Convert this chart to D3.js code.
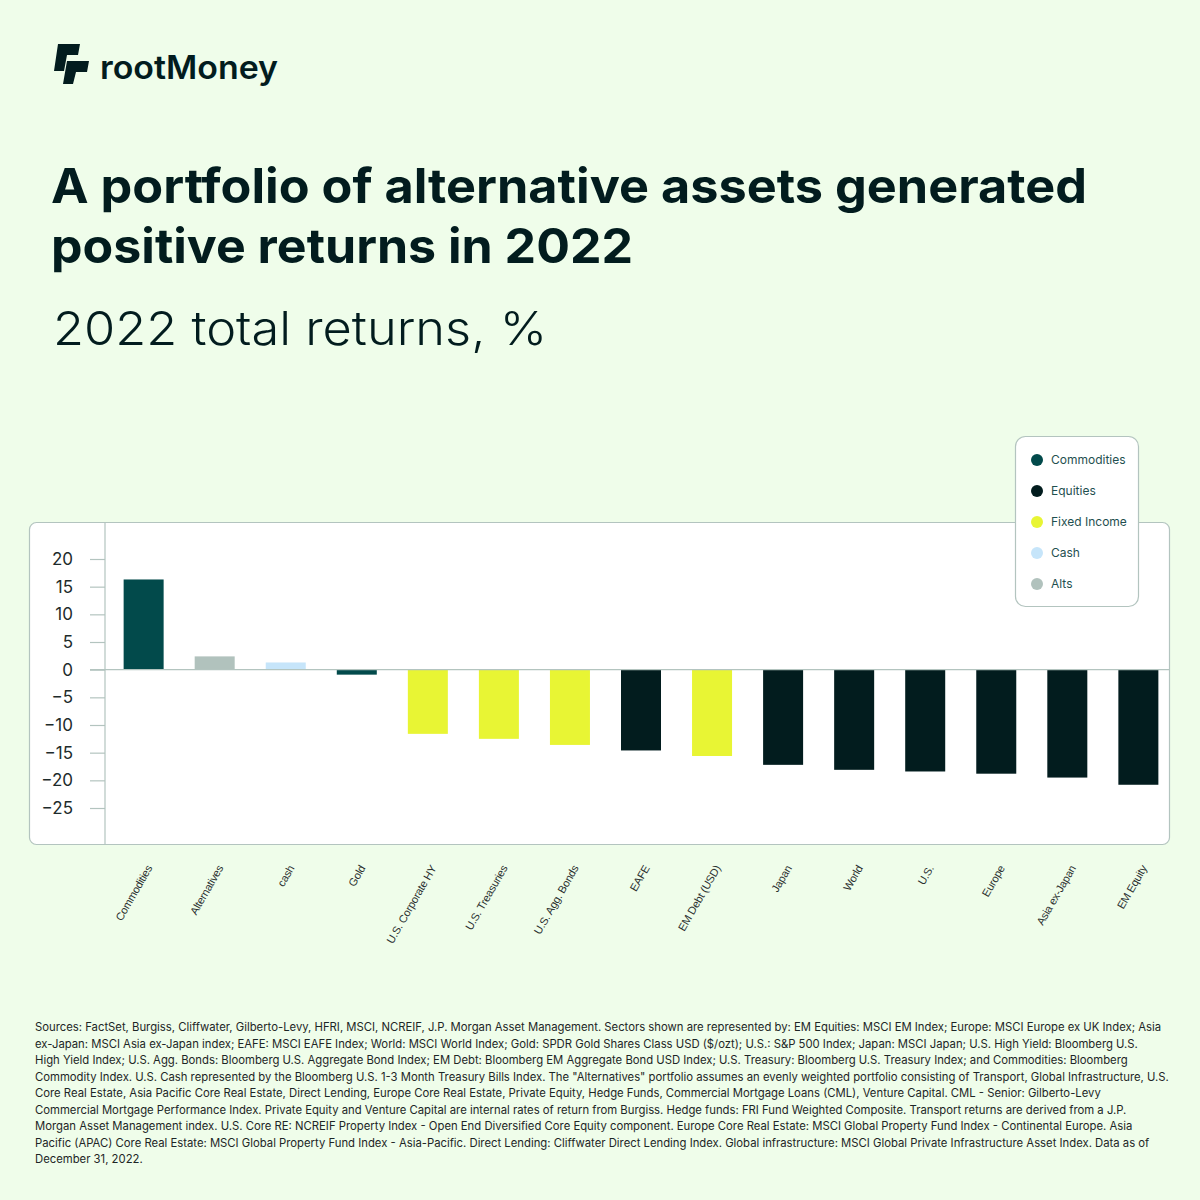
<!DOCTYPE html>
<html>
<head>
<meta charset="utf-8">
<script src="https://cdn.jsdelivr.net/npm/d3@7"></script>
<style>
  html, body { margin: 0; padding: 0; background: #effdea; }
  svg { display: block; }
</style>
</head>
<body>
<div id="chart"></div>
<script>
// chart data
var categories = ["Commodities", "Alternatives", "cash", "Gold", "U.S. Corporate HY", "U.S. Treasuries",
                  "U.S. Agg. Bonds", "EAFE", "EM Debt (USD)", "Japan", "World", "U.S.", "Europe",
                  "Asia ex-Japan", "EM Equity"];
var returns = [16.3, 2.4, 1.3, -0.9, -11.6, -12.5, -13.6, -14.6, -15.6, -17.2, -18.1, -18.4, -18.8, -19.5, -20.8];
var groups = ["Commodities", "Alts", "Cash", "Commodities", "Fixed Income", "Fixed Income", "Fixed Income",
              "Equities", "Fixed Income", "Equities", "Equities", "Equities", "Equities", "Equities", "Equities"];
var legendLabels = ["Commodities", "Equities", "Fixed Income", "Cash", "Alts"];
var legendColors = ["#024a4b", "#021c1e", "#e8f534", "#c6e5fa", "#b1c2bd"];
var yTicks = [20, 15, 10, 5, 0, -5, -10, -15, -20, -25];
var sourceLines = [
  "Sources: FactSet, Burgiss, Cliffwater, Gilberto-Levy, HFRI, MSCI, NCREIF, J.P. Morgan Asset Management. Sectors shown are represented by: EM Equities: MSCI EM Index; Europe: MSCI Europe ex UK Index; Asia",
  "ex-Japan: MSCI Asia ex-Japan index; EAFE: MSCI EAFE Index; World: MSCI World Index; Gold: SPDR Gold Shares Class USD ($/ozt); U.S.: S&P 500 Index; Japan: MSCI Japan; U.S. High Yield: Bloomberg U.S.",
  "High Yield Index; U.S. Agg. Bonds: Bloomberg U.S. Aggregate Bond Index; EM Debt: Bloomberg EM Aggregate Bond USD Index; U.S. Treasury: Bloomberg U.S. Treasury Index; and Commodities: Bloomberg",
  "Commodity Index. U.S. Cash represented by the Bloomberg U.S. 1-3 Month Treasury Bills Index. The \"Alternatives\" portfolio assumes an evenly weighted portfolio consisting of Transport, Global Infrastructure, U.S.",
  "Core Real Estate, Asia Pacific Core Real Estate, Direct Lending, Europe Core Real Estate, Private Equity, Hedge Funds, Commercial Mortgage Loans (CML), Venture Capital. CML - Senior: Gilberto-Levy",
  "Commercial Mortgage Performance Index. Private Equity and Venture Capital are internal rates of return from Burgiss. Hedge funds: FRI Fund Weighted Composite. Transport returns are derived from a J.P.",
  "Morgan Asset Management index. U.S. Core RE: NCREIF Property Index - Open End Diversified Core Equity component. Europe Core Real Estate: MSCI Global Property Fund Index - Continental Europe. Asia",
  "Pacific (APAC) Core Real Estate: MSCI Global Property Fund Index - Asia-Pacific. Direct Lending: Cliffwater Direct Lending Index. Global infrastructure: MSCI Global Private Infrastructure Asset Index. Data as of",
  "December 31, 2022."
];

var W = 1200, H = 1200;
var ink = "#021c1e";
var lineColor = "#b3c4bf";

var svg = d3.select("#chart").append("svg")
    .attr("width", W)
    .attr("height", H);

svg.append("rect")
    .attr("width", W).attr("height", H)
    .attr("fill", "#effdea");

// logo
var logo = svg.append("g").attr("transform", "translate(52,44)");
logo.append("path")
    .attr("d", "M6,0 L28,0 L26,11 L15,11 L12,27 L2,27 Z")
    .attr("fill", ink);
logo.append("path")
    .attr("d", "M15,17 L37,17 L35,28 L24,28 L21,40 L11,40 Z")
    .attr("fill", ink);
svg.append("text")
    .attr("x", 100).attr("y", 79)
    .attr("font-family", "Inter, sans-serif")
    .attr("font-weight", 600)
    .attr("font-size", 32)
    .attr("textLength", 178)
    .attr("lengthAdjust", "spacingAndGlyphs")
    .attr("fill", ink)
    .text("rootMoney");

// title + subtitle
var title = svg.append("text")
    .attr("font-family", "Inter, sans-serif")
    .attr("font-weight", 700)
    .attr("font-size", 48)
    .attr("fill", ink);
title.append("tspan").attr("x", 51).attr("y", 203)
    .attr("textLength", 1036).attr("lengthAdjust", "spacingAndGlyphs")
    .text("A portfolio of alternative assets generated");
title.append("tspan").attr("x", 51).attr("y", 263)
    .attr("textLength", 582).attr("lengthAdjust", "spacingAndGlyphs")
    .text("positive returns in 2022");

svg.append("text")
    .attr("x", 53).attr("y", 345)
    .attr("font-family", "Inter, sans-serif")
    .attr("font-weight", 300)
    .attr("font-size", 47)
    .attr("textLength", 494)
    .attr("lengthAdjust", "spacingAndGlyphs")
    .attr("fill", ink)
    .text("2022 total returns, %");

// chart panel
var panel = { x: 29, y: 522, w: 1140, h: 322 };
svg.append("rect")
    .attr("x", panel.x + 0.5).attr("y", panel.y + 0.5)
    .attr("width", panel.w).attr("height", panel.h)
    .attr("rx", 7).attr("ry", 7)
    .attr("fill", "#ffffff")
    .attr("stroke", lineColor)
    .attr("stroke-width", 1.2);

var x = d3.scaleBand()
    .domain(categories)
    .range([108, 1174])
    .paddingInner(0.437)
    .paddingOuter(0.22);

var y = d3.scaleLinear()
    .domain([-25, 20])
    .range([808, 559]);

var color = d3.scaleOrdinal()
    .domain(legendLabels)
    .range(legendColors);

var axisX = 105;

// y axis
var yAxis = svg.append("g")
    .attr("transform", "translate(" + axisX + ",0)")
    .call(d3.axisLeft(y).tickValues(yTicks).tickSize(15).tickPadding(17).tickFormat(d3.format("d")));
yAxis.select(".domain").remove();
yAxis.selectAll(".tick line").attr("stroke", lineColor).attr("stroke-width", 1.2);
yAxis.selectAll(".tick text")
    .attr("font-family", "Inter, sans-serif")
    .attr("font-size", 17)
    .attr("fill", "#1d2b2b");

svg.append("line")
    .attr("x1", axisX).attr("x2", axisX)
    .attr("y1", panel.y).attr("y2", panel.y + panel.h)
    .attr("stroke", lineColor).attr("stroke-width", 1.2);

// bars
svg.append("g").selectAll("rect")
    .data(categories)
    .enter()
    .append("rect")
    .attr("x", function(d) { return x(d); })
    .attr("width", x.bandwidth())
    .attr("y", function(d, i) { return returns[i] >= 0 ? y(returns[i]) : y(0); })
    .attr("height", function(d, i) { return Math.abs(y(returns[i]) - y(0)); })
    .attr("fill", function(d, i) { return color(groups[i]); });

// zero line
svg.append("line")
    .attr("x1", axisX - 15).attr("x2", panel.x + panel.w)
    .attr("y1", y(0)).attr("y2", y(0))
    .attr("stroke", lineColor).attr("stroke-width", 1.2);

// category labels, rotated
svg.append("g").selectAll("text")
    .data(categories)
    .enter()
    .append("text")
    .attr("transform", function(d) {
        return "translate(" + (x(d) + x.bandwidth() / 2 + 9) + ",868) rotate(-60)";
    })
    .attr("text-anchor", "end")
    .attr("font-family", "'Liberation Sans', Arial, sans-serif")
    .attr("font-size", 11)
    .attr("letter-spacing", -0.2)
    .attr("fill", "#2a2f2f")
    .text(function(d) { return d; });

// legend
var legend = svg.append("g").attr("transform", "translate(1015,436)");
legend.append("rect")
    .attr("x", 0.5).attr("y", 0.5)
    .attr("width", 123).attr("height", 170)
    .attr("rx", 10).attr("ry", 10)
    .attr("fill", "#ffffff")
    .attr("stroke", lineColor)
    .attr("stroke-width", 1.2);
var items = legend.selectAll("g.item")
    .data(legendLabels)
    .enter()
    .append("g")
    .attr("class", "item")
    .attr("transform", function(d, i) { return "translate(0," + (24 + i * 31) + ")"; });
items.append("circle")
    .attr("cx", 22).attr("cy", 0).attr("r", 6)
    .attr("fill", function(d) { return color(d); });
items.append("text")
    .attr("x", 36).attr("y", 0)
    .attr("dy", "0.35em")
    .attr("font-family", "Inter, sans-serif")
    .attr("font-size", 12)
    .attr("fill", "#1f5050")
    .text(function(d) { return d; });

// sources footnote
svg.append("g").selectAll("text")
    .data(sourceLines)
    .enter()
    .append("text")
    .attr("x", 35)
    .attr("y", function(d, i) { return 1031 + i * 16.5; })
    .attr("font-family", "Inter, sans-serif")
    .attr("font-size", 11.3)
    .attr("fill", "#1d2626")
    .text(function(d) { return d; });
</script>
</body>
</html>
